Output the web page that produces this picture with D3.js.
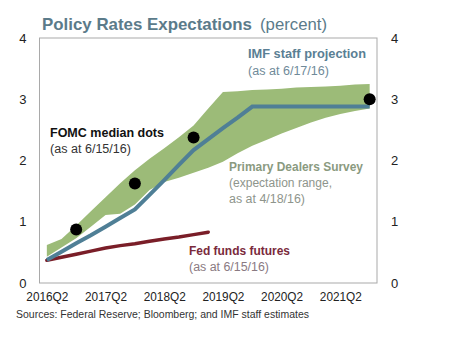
<!DOCTYPE html>
<html lang="en">
<head>
<meta charset="UTF-8">
<title>Policy Rates Expectations</title>
<style>
  body { margin: 0; background: #fff; }
  text { font-family: "Liberation Sans", Arial, sans-serif; }
</style>
</head>
<body>
<script src="https://cdn.jsdelivr.net/npm/d3@7"></script>
<script>
// categories (quarters) and the labelled ones
var quarters = ["2016Q2","2016Q3","2016Q4","2017Q1","2017Q2","2017Q3","2017Q4","2018Q1",
                "2018Q2","2018Q3","2018Q4","2019Q1","2019Q2","2019Q3","2019Q4","2020Q1",
                "2020Q2","2020Q3","2020Q4","2021Q1","2021Q2","2021Q3","2021Q4"];
var tickQuarters = ["2016Q2","2017Q2","2018Q2","2019Q2","2020Q2","2021Q2"];
var yTicks = [0, 1, 2, 3, 4];

// primary dealers survey range (low / high)
var dealersLow  = [0.43,0.58,0.73,0.92,1.11,1.13,1.28,1.52,1.65,1.72,1.80,1.88,1.98,
                   2.12,2.24,2.34,2.44,2.53,2.62,2.70,2.76,2.81,2.85];
var dealersHigh = [0.62,0.72,0.94,1.17,1.40,1.63,1.84,2.03,2.20,2.38,2.57,2.85,3.12,
                   3.13,3.15,3.16,3.17,3.19,3.20,3.21,3.22,3.24,3.25];

// IMF staff projection
var imfProj = [0.375,0.51,0.65,0.78,0.92,1.06,1.20,1.44,1.68,1.93,2.17,2.35,2.53,
               2.70,2.88,2.88,2.88,2.88,2.88,2.88,2.88,2.88,2.88];

// Fed funds futures
var fedFutures = [0.37,0.42,0.47,0.52,0.57,0.61,0.64,0.68,0.72,0.75,0.79,0.83];

// FOMC median dots
var fomcQuarters = ["2016Q4","2017Q4","2018Q4","2021Q4"];
var fomcValues   = [0.875, 1.625, 2.375, 3.0];

var width = 462, height = 340,
    plotLeft = 39.5, plotRight = 377, plotTop = 38, plotBottom = 283;

var svg = d3.select("body").append("svg")
    .attr("width", width)
    .attr("height", height);

var x = d3.scalePoint()
    .domain(quarters)
    .range([plotLeft, plotRight])
    .padding(0.5);

var y = d3.scaleLinear()
    .domain([0, 4])
    .range([plotBottom, plotTop]);

// frame
svg.append("rect")
    .attr("x", plotLeft).attr("y", plotTop)
    .attr("width", plotRight - plotLeft).attr("height", plotBottom - plotTop)
    .attr("fill", "none")
    .attr("stroke", "#a9a9a9")
    .attr("stroke-width", 1);

// dealers band
var area = d3.area()
    .x(function(d, i){ return x(quarters[i]); })
    .y0(function(d, i){ return y(dealersLow[i]); })
    .y1(function(d){ return y(d); });

svg.append("path")
    .datum(dealersHigh)
    .attr("d", area)
    .attr("fill", "#9cbb78");

var line = d3.line()
    .x(function(d, i){ return x(quarters[i]); })
    .y(function(d){ return y(d); });

svg.append("path")
    .datum(fedFutures)
    .attr("d", line)
    .attr("fill", "none")
    .attr("stroke", "#7a1e28")
    .attr("stroke-width", 3.5)
    .attr("stroke-linecap", "round");

svg.append("path")
    .datum(imfProj)
    .attr("d", line)
    .attr("fill", "none")
    .attr("stroke", "#4f7f96")
    .attr("stroke-width", 4);

svg.selectAll("circle.fomc")
    .data(fomcValues)
    .enter()
    .append("circle")
    .attr("class", "fomc")
    .attr("cx", function(d, i){ return x(fomcQuarters[i]); })
    .attr("cy", function(d){ return y(d); })
    .attr("r", 6)
    .attr("fill", "#000");

// axes
var xAxis = d3.axisBottom(x).tickValues(tickQuarters).tickSize(0).tickPadding(9);
svg.append("g")
    .attr("transform", "translate(0," + plotBottom + ")")
    .call(xAxis)
    .call(function(g){ g.select(".domain").remove(); })
    .selectAll("text")
    .attr("font-size", 13)
    .attr("fill", "#222")
    .attr("textLength", 42)
    .attr("lengthAdjust", "spacingAndGlyphs");

var yLeft = d3.axisLeft(y).tickValues(yTicks).tickFormat(d3.format("d"))
    .tickSize(0).tickPadding(13);
svg.append("g")
    .attr("transform", "translate(" + plotLeft + ",0)")
    .call(yLeft)
    .call(function(g){ g.select(".domain").remove(); })
    .selectAll("text")
    .attr("font-size", 13)
    .attr("fill", "#222");

var yRight = d3.axisRight(y).tickValues(yTicks).tickFormat(d3.format("d"))
    .tickSize(0).tickPadding(14);
svg.append("g")
    .attr("transform", "translate(" + plotRight + ",0)")
    .call(yRight)
    .call(function(g){ g.select(".domain").remove(); })
    .selectAll("text")
    .attr("font-size", 13)
    .attr("fill", "#222");

svg.selectAll(".tick text").attr("font-family", "Liberation Sans, Arial, sans-serif");

// texts
function label(txt, px, py, size, weight, color, len) {
    svg.append("text")
        .attr("x", px).attr("y", py)
        .attr("font-size", size)
        .attr("font-weight", weight)
        .attr("fill", color)
        .attr("textLength", len)
        .attr("lengthAdjust", "spacingAndGlyphs")
        .text(txt);
}

label("Policy Rates Expectations", 42, 30, 17, "bold", "#5b7b8a", 210);
label("(percent)", 260, 30, 17, "normal", "#5b7b8a", 67);

label("IMF staff projection", 248, 58, 12, "bold", "#5a7f94", 118);
label("(as at 6/17/16)", 248, 75, 12, "normal", "#6f8a99", 81);

label("FOMC median dots", 50, 137, 12, "bold", "#111", 114);
label("(as at 6/15/16)", 50, 153, 12, "normal", "#333", 81);

label("Primary Dealers Survey", 229, 171, 12, "bold", "#8a9a80", 134);
label("(expectation  range,", 229, 187, 12, "normal", "#8e958c", 103);
label("as at 4/18/16)", 229, 203, 12, "normal", "#8e958c", 76);

label("Fed funds  futures", 189, 255, 12, "bold", "#7a2a3c", 101);
label("(as at 6/15/16)", 189, 271, 12, "normal", "#8a7a82", 80);

label("Sources: Federal Reserve; Bloomberg; and IMF staff estimates", 16, 318, 11, "normal", "#333", 293);
</script>
</body>
</html>
